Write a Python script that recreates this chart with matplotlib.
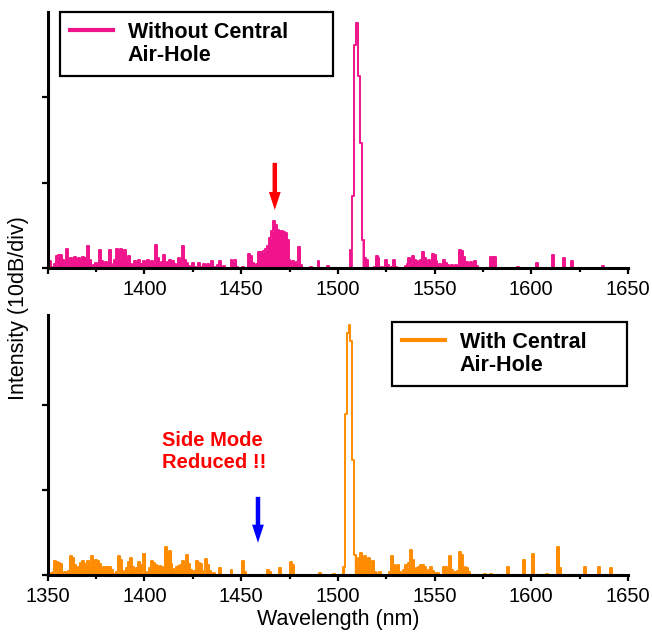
import numpy as np
import matplotlib
matplotlib.use("Agg")
import matplotlib.pyplot as plt
from matplotlib.lines import Line2D
from matplotlib.ticker import MultipleLocator

plt.rcParams['font.family'] = ['Liberation Sans', 'DejaVu Sans']

# ---------------- data ----------------
wl_start, wl_stop = 1350, 1645          # 1 nm sampling
wavelength = np.arange(wl_start, wl_stop + 1)

without_hole = [
    0.08, 0.08, 0.00, 0.02, 0.05, 0.14, 0.16, 0.15, 0.10, 0.03,   # 1350
    0.23, 0.05, 0.12, 0.10, 0.13, 0.11, 0.12, 0.08, 0.13, 0.09,   # 1360
    0.12, 0.26, 0.10, 0.00, 0.04, 0.06, 0.03, 0.21, 0.08, 0.05,   # 1370
    0.07, 0.03, 0.21, 0.02, 0.05, 0.10, 0.23, 0.12, 0.22, 0.20,   # 1380
    0.21, 0.08, 0.14, 0.05, 0.03, 0.08, 0.03, 0.10, 0.05, 0.03,   # 1390
    0.08, 0.06, 0.10, 0.02, 0.09, 0.06, 0.27, 0.12, 0.05, 0.07,   # 1400
    0.15, 0.04, 0.07, 0.10, 0.03, 0.08, 0.05, 0.04, 0.12, 0.07,   # 1410
    0.26, 0.10, 0.06, 0.03, 0.00, 0.06, 0.02, 0.00, 0.06, 0.01,   # 1420
    0.00, 0.05, 0.02, 0.05, 0.00, 0.09, 0.02, 0.00, 0.04, 0.09,   # 1430
    0.00, 0.03, 0.00, 0.00, 0.00, 0.10, 0.08, 0.10, 0.02, 0.00,   # 1440
    0.00, 0.02, 0.00, 0.00, 0.17, 0.14, 0.06, 0.02, 0.05, 0.19,   # 1450
    0.18, 0.19, 0.20, 0.22, 0.26, 0.35, 0.43, 0.55, 0.51, 0.45,   # 1460
    0.44, 0.43, 0.42, 0.41, 0.33, 0.10, 0.05, 0.08, 0.06, 0.07,   # 1470
    0.25, 0.04, 0.00, 0.00, 0.00, 0.00, 0.01, 0.00, 0.00, 0.00,   # 1480
    0.08, 0.00, 0.00, 0.00, 0.00, 0.03, 0.00, 0.00, 0.00, 0.00,   # 1490
    0.00, 0.00, 0.00, 0.00, 0.00, 0.00, 0.00, 0.21, 0.84, 2.60,   # 1500
    2.86, 2.24, 1.46, 0.33, 0.12, 0.10, 0.00, 0.00, 0.00, 0.02,   # 1510
    0.14, 0.12, 0.00, 0.02, 0.00, 0.10, 0.04, 0.00, 0.02, 0.10,   # 1520
    0.01, 0.00, 0.00, 0.00, 0.00, 0.03, 0.05, 0.12, 0.06, 0.14,   # 1530
    0.10, 0.08, 0.04, 0.10, 0.19, 0.12, 0.06, 0.10, 0.05, 0.17,   # 1540
    0.15, 0.08, 0.02, 0.05, 0.03, 0.10, 0.06, 0.04, 0.03, 0.04,   # 1550
    0.03, 0.04, 0.02, 0.21, 0.20, 0.13, 0.02, 0.07, 0.02, 0.07,   # 1560
    0.00, 0.08, 0.03, 0.00, 0.00, 0.00, 0.00, 0.00, 0.00, 0.13,   # 1570
    0.13, 0.13, 0.00, 0.00, 0.00, 0.00, 0.00, 0.00, 0.00, 0.00,   # 1580
    0.00, 0.00, 0.00, 0.02, 0.00, 0.00, 0.00, 0.00, 0.00, 0.00,   # 1590
    0.00, 0.00, 0.00, 0.06, 0.00, 0.00, 0.00, 0.00, 0.00, 0.00,   # 1600
    0.00, 0.15, 0.00, 0.00, 0.00, 0.00, 0.00, 0.12, 0.00, 0.00,   # 1610
    0.00, 0.08, 0.00, 0.00, 0.00, 0.00, 0.00, 0.00, 0.00, 0.00,   # 1620
    0.00, 0.00, 0.00, 0.00, 0.00, 0.00, 0.00, 0.03, 0.00, 0.00,   # 1630
    0.00, 0.00, 0.00, 0.00, 0.00, 0.00,                           # 1640
]

with_hole = [
    0.09, 0.00, 0.02, 0.03, 0.16, 0.15, 0.14, 0.13, 0.02, 0.04,   # 1350
    0.00, 0.05, 0.22, 0.20, 0.12, 0.02, 0.10, 0.14, 0.16, 0.12,   # 1360
    0.13, 0.16, 0.06, 0.22, 0.10, 0.18, 0.17, 0.13, 0.05, 0.10,   # 1370
    0.10, 0.09, 0.10, 0.06, 0.00, 0.01, 0.03, 0.22, 0.18, 0.05,   # 1380
    0.00, 0.08, 0.15, 0.20, 0.10, 0.04, 0.08, 0.15, 0.12, 0.03,   # 1390
    0.25, 0.04, 0.00, 0.08, 0.17, 0.14, 0.12, 0.10, 0.11, 0.06,   # 1400
    0.10, 0.33, 0.26, 0.28, 0.13, 0.07, 0.04, 0.10, 0.11, 0.12,   # 1410
    0.17, 0.12, 0.24, 0.13, 0.06, 0.02, 0.05, 0.17, 0.14, 0.13,   # 1420
    0.05, 0.03, 0.19, 0.12, 0.05, 0.00, 0.02, 0.00, 0.00, 0.08,   # 1430
    0.00, 0.00, 0.00, 0.00, 0.00, 0.06, 0.00, 0.00, 0.00, 0.00,   # 1440
    0.00, 0.17, 0.03, 0.00, 0.00, 0.00, 0.00, 0.00, 0.00, 0.00,   # 1450
    0.00, 0.00, 0.00, 0.00, 0.06, 0.03, 0.00, 0.00, 0.00, 0.00,   # 1460
    0.08, 0.00, 0.00, 0.00, 0.00, 0.00, 0.15, 0.12, 0.00, 0.00,   # 1470
    0.00, 0.00, 0.00, 0.00, 0.00, 0.00, 0.00, 0.00, 0.00, 0.00,   # 1480
    0.00, 0.02, 0.00, 0.00, 0.00, 0.00, 0.00, 0.00, 0.01, 0.00,   # 1490
    0.00, 0.00, 0.00, 0.10, 1.90, 2.85, 2.94, 2.75, 1.35, 0.24,   # 1500
    0.16, 0.20, 0.26, 0.14, 0.22, 0.12, 0.20, 0.05, 0.17, 0.04,   # 1510
    0.00, 0.02, 0.04, 0.00, 0.00, 0.00, 0.00, 0.03, 0.22, 0.12,   # 1520
    0.05, 0.12, 0.04, 0.00, 0.06, 0.12, 0.09, 0.14, 0.30, 0.18,   # 1530
    0.05, 0.08, 0.10, 0.12, 0.12, 0.10, 0.04, 0.06, 0.10, 0.05,   # 1540
    0.02, 0.00, 0.02, 0.00, 0.00, 0.10, 0.10, 0.05, 0.22, 0.06,   # 1550
    0.03, 0.04, 0.05, 0.27, 0.24, 0.06, 0.10, 0.08, 0.03, 0.00,   # 1560
    0.00, 0.00, 0.00, 0.00, 0.00, 0.00, 0.01, 0.00, 0.00, 0.01,   # 1570
    0.00, 0.00, 0.00, 0.00, 0.00, 0.00, 0.00, 0.00, 0.10, 0.00,   # 1580
    0.00, 0.00, 0.00, 0.00, 0.00, 0.00, 0.18, 0.00, 0.00, 0.00,   # 1590
    0.00, 0.25, 0.00, 0.00, 0.00, 0.00, 0.00, 0.00, 0.01, 0.00,   # 1600
    0.00, 0.00, 0.00, 0.00, 0.33, 0.08, 0.00, 0.00, 0.00, 0.00,   # 1610
    0.00, 0.00, 0.00, 0.00, 0.00, 0.00, 0.00, 0.00, 0.10, 0.00,   # 1620
    0.00, 0.00, 0.00, 0.00, 0.00, 0.10, 0.00, 0.00, 0.00, 0.00,   # 1630
    0.00, 0.08, 0.00, 0.00, 0.00, 0.00,                           # 1640
]

x_ticks = [1350, 1400, 1450, 1500, 1550, 1600, 1650]
y_ticks = [0, 1, 2]
label_without = ["Without Central", "Air-Hole"]
label_with = ["With Central", "Air-Hole"]
annotation_text = "Side Mode\nReduced !!"
xlabel = "Wavelength (nm)"
ylabel = "Intensity (10dB/div)"

# annotation anchors (data coordinates)
red_arrow_wl, red_arrow_tail, red_arrow_tip = 1467.4, 1.23, 0.68
blue_arrow_wl, blue_arrow_tail, blue_arrow_tip = 1458.7, 0.92, 0.38
note_wl, note_y = 1409.0, 1.70

c_top = '#F0148C'
c_bot = '#FF8C00'
noise_fill_cap = 0.6   # fill only the dense noise floor, keep the lasing peak as outline

# ---------------- figure ----------------
fig = plt.figure(figsize=(6.52, 6.37), dpi=100)
ax1 = fig.add_axes([0.0732, 0.5788, 0.8900, 0.4024])
ax2 = fig.add_axes([0.0732, 0.0973, 0.8900, 0.4082])


def style(ax, ytop, hide_first=False):
    ax.set_xlim(1350, 1650)
    ax.set_ylim(0, ytop)
    for s in ['top', 'right']:
        ax.spines[s].set_visible(False)
    for s in ['left', 'bottom']:
        ax.spines[s].set_linewidth(2.2)
    ax.set_xticks(x_ticks)
    ax.xaxis.set_minor_locator(MultipleLocator(25))
    ax.set_yticks(y_ticks)
    ax.set_yticklabels([])
    ax.tick_params(axis='x', which='major', direction='out', length=4.5, width=1.6,
                   labelsize=14.5, pad=4)
    ax.tick_params(axis='x', which='minor', direction='out', length=3, width=1.6)
    ax.tick_params(axis='y', which='major', direction='out', length=4, width=1.6)
    if hide_first:
        labels = [str(t) for t in x_ticks]
        labels[0] = ''
        ax.set_xticklabels(labels)


style(ax1, 2.99, hide_first=True)
style(ax2, 3.06)


def spectrum(ax, y, color):
    y = np.asarray(y)
    noise = np.where(y < noise_fill_cap, y, 0.0)
    ax.fill_between(wavelength, 0, noise, step='mid', color=color, lw=0)
    ax.plot(wavelength, y, color=color, lw=1.4, drawstyle='steps-mid')


spectrum(ax1, without_hole, c_top)
spectrum(ax2, with_hole, c_bot)

ax2.set_xlabel(xlabel, fontsize=15.5, labelpad=2)
fig.text(0.028, 0.516, ylabel, rotation=90, fontsize=15.5, ha='center', va='center')


def legend(ax, entries, color, x0, w, top):
    handles = [Line2D([], [], color=color, lw=3),
               Line2D([], [], color='none', lw=0)]
    leg = ax.legend(handles, entries, loc='upper left', mode='expand',
                    bbox_to_anchor=(x0, 0, w, top), borderaxespad=0,
                    fancybox=False, framealpha=1, edgecolor='black',
                    prop={'weight': 'bold', 'size': 15.5},
                    handlelength=2.0, handletextpad=0.7, borderpad=0.45,
                    labelspacing=0.12)
    leg.get_frame().set_linewidth(1.6)
    return leg


legend(ax1, label_without, c_top, 0.0212, 0.470, 1.0)
legend(ax2, label_with, c_bot, 0.593, 0.405, 0.973)

arrow_style = 'simple,head_length=1.3,head_width=0.85,tail_width=0.32'
ax1.annotate('', xy=(red_arrow_wl, red_arrow_tip), xytext=(red_arrow_wl, red_arrow_tail),
             arrowprops=dict(arrowstyle=arrow_style, color='#FF0000', mutation_scale=10,
                             shrinkA=0, shrinkB=0, lw=0))
ax2.annotate('', xy=(blue_arrow_wl, blue_arrow_tip), xytext=(blue_arrow_wl, blue_arrow_tail),
             arrowprops=dict(arrowstyle=arrow_style, color='#0000FF', mutation_scale=10,
                             shrinkA=0, shrinkB=0, lw=0))
ax2.text(note_wl, note_y, annotation_text, color='#FF0000', fontsize=14.5,
         fontweight='bold', ha='left', va='top', linespacing=1.25)

fig.savefig('out.png', dpi=100)
